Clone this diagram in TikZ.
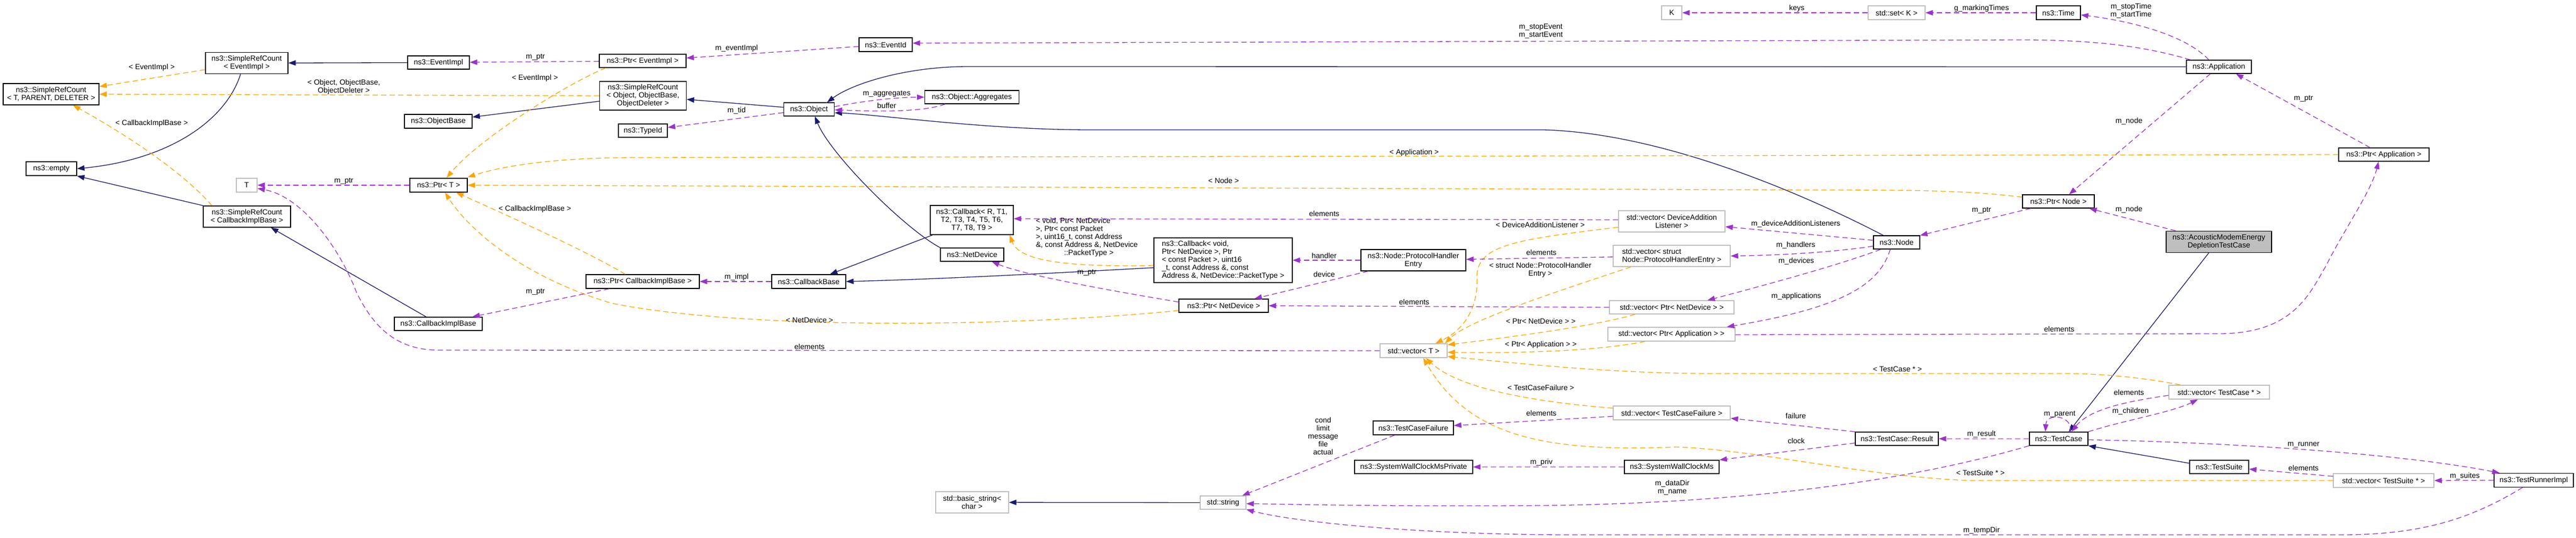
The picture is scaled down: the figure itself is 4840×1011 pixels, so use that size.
\documentclass[tikz,border=0pt]{standalone}
\usepackage{fontspec}
\setmainfont{Liberation Sans}
\usetikzlibrary{arrows.meta}
\definecolor{inhcol}{HTML}{191970}
\definecolor{usecol}{HTML}{9A32CD}
\definecolor{tplcol}{HTML}{FFA500}
\definecolor{extgray}{HTML}{BFBFBF}
\begin{document}
\begin{tikzpicture}[x=1pt, y=-1pt, font=\fontsize{14}{15}\selectfont,
  cls/.style 2 args={draw=black, fill=white, line width=1.4pt, minimum width=#1pt, minimum height=#2pt, inner sep=0pt, align=center},
  ext/.style 2 args={cls={#1}{#2}, draw=extgray},
  cur/.style 2 args={cls={#1}{#2}, fill=extgray},
  lbl/.style={inner sep=0pt, align=center},
  inh/.style={draw=inhcol, line width=1.3pt, -{Triangle[length=14pt,width=10pt]}},
  use/.style={draw=usecol, line width=1.3pt, dash pattern=on 10pt off 6pt, -{Triangle[length=14pt,width=10pt]}},
  tpl/.style={draw=tplcol, line width=1.3pt, dash pattern=on 10pt off 6pt, -{Triangle[length=14pt,width=10pt]}}]
  \path[use as bounding box, fill=white] (0,0) rectangle (4840,1011);

  % Classes, left to right
  \node[cls={180}{40}] (srcTPD) at (96,177) {ns3::SimpleRefCount\\< T, PARENT, DELETER >};
  \node[cls={155}{40}] (srcEI) at (463.5,118.5) {ns3::SimpleRefCount\\< EventImpl >};
  \node[cls={95}{26}] (empty) at (96.5,317) {ns3::empty};
  \node[cls={164}{40}] (srcCIB) at (464,407) {ns3::SimpleRefCount\\< CallbackImplBase >};
  \node[ext={39}{26}] (tparam) at (463.5,348) {T};
  \node[cls={116}{25}] (eventImpl) at (824,117.5) {ns3::EventImpl};
  \node[cls={127}{26}] (objectBase) at (823.5,228) {ns3::ObjectBase};
  \node[cls={108}{26}] (ptrT) at (824,348) {ns3::Ptr< T >};
  \node[cls={165}{25}] (callbackImplBase) at (823.5,608.5) {ns3::CallbackImplBase};
  \node[cls={163}{25}] (ptrEventImpl) at (1207.5,114.5) {ns3::Ptr< EventImpl >};
  \node[cls={163}{54}] (srcOOB) at (1208,180) {ns3::SimpleRefCount\\< Object, ObjectBase,\\ObjectDeleter >};
  \node[cls={92}{25}] (typeId) at (1208,245.5) {ns3::TypeId};
  \node[cls={213}{26}] (ptrCIB) at (1207.5,529) {ns3::Ptr< CallbackImplBase >};
  \node[cls={95}{25}] (object) at (1520,205.5) {ns3::Object};
  \node[cls={139}{26}] (callbackBase) at (1519.5,529) {ns3::CallbackBase};
  \node[cls={100}{26}] (eventId) at (1664,84) {ns3::EventId};
  \node[cls={177}{25}] (aggregates) at (1826,182.5) {ns3::Object::Aggregates};
  \node[cls={156}{55}] (callbackR) at (1826,413.5) {ns3::Callback< R, T1,\\T2, T3, T4, T5, T6,\\T7, T8, T9 >};
  \node[cls={119}{25}] (netDevice) at (1826.5,478.5) {ns3::NetDevice};
  \node[ext={137}{40}] (basicString) at (1826.5,944) {std::basic\_string<\\char >};
  \node[cls={260}{84}, align=left] (callbackVoid) at (2298,489) {ns3::Callback< void,\\ Ptr< NetDevice >, Ptr\\< const Packet >, uint16\\\_t, const Address \&, const\\ Address \&, NetDevice::PacketType >};
  \node[cls={168}{25}] (ptrND) at (2299,574.5) {ns3::Ptr< NetDevice >};
  \node[ext={86}{25}] (stdString) at (2298,944.5) {std::string};
  \node[cls={197}{40}] (phEntry) at (2655.5,489) {ns3::Node::ProtocolHandler\\Entry};
  \node[ext={126}{26}] (vecT) at (2656,659) {std::vector< T >};
  \node[cls={151}{26}] (tcFailure) at (2655.5,804) {ns3::TestCaseFailure};
  \node[cls={222}{25}] (swcPriv) at (2656,877.5) {ns3::SystemWallClockMsPrivate};
  \node[ext={38}{26}] (kparam) at (3141,24) {K};
  \node[ext={200}{40}] (vecDAL) at (3141,416) {std::vector< DeviceAddition\\Listener >};
  \node[ext={220}{40}, align=left] (vecPHE) at (3141,481) {std::vector< struct\\ Node::ProtocolHandlerEntry >};
  \node[ext={234}{25}] (vecPtrND) at (3141,577.5) {std::vector< Ptr< NetDevice > >};
  \node[ext={239}{26}] (vecPtrApp) at (3140.5,628) {std::vector< Ptr< Application > >};
  \node[ext={220}{26}] (vecTCF) at (3141,776) {std::vector< TestCaseFailure >};
  \node[cls={178}{25}] (swc) at (3141,877.5) {ns3::SystemWallClockMs};
  \node[ext={107}{26}] (setK) at (3563.5,24) {std::set< K >};
  \node[cls={87}{25}] (nsNode) at (3563.5,455.5) {ns3::Node};
  \node[cls={156}{25}] (tcResult) at (3564,824.5) {ns3::TestCase::Result};
  \node[cls={83}{26}] (nsTime) at (3867.5,24) {ns3::Time};
  \node[cls={135}{25}] (ptrNode) at (3867.5,378.5) {ns3::Ptr< Node >};
  \node[cls={110}{25}] (testCase) at (3868,824.5) {ns3::TestCase};
  \node[cls={122}{25}] (application) at (4169,125.5) {ns3::Application};
  \node[cur={198}{40}] (atc) at (4169,454.5) {ns3::AcousticModemEnergy\\DepletionTestCase};
  \node[ext={189}{26}] (vecTC) at (4169.5,737) {std::vector< TestCase * >};
  \node[cls={111}{25}] (testSuite) at (4169.5,877.5) {ns3::TestSuite};
  \node[cls={170}{25}] (ptrApp) at (4479,290.5) {ns3::Ptr< Application >};
  \node[ext={189}{26}] (vecTS) at (4478.5,903) {std::vector< TestSuite * >};
  \node[cls={149}{26}] (runner) at (4760.5,902.5) {ns3::TestRunnerImpl};

  % Inheritance
  \draw[inh] (eventImpl) -- (srcEI);
  \draw[inh] ([xshift=-11.5pt]srcEI.south) .. controls (425,225) and (320,300) .. (empty.east);
  \draw[inh] (srcCIB.north west) -- (empty.south east);
  \draw[inh] (srcOOB) -- (objectBase);
  \draw[inh] (object) -- (srcOOB);
  \draw[inh] (application.west) -- (1820,125) .. controls (1700,125) and (1600,158) .. ([xshift=34pt]object.north);
  \draw[inh] ([xshift=-25pt]nsNode.north) .. controls (3380,360) and (3120,250) .. (2900,244) -- (2050,244) .. controls (1850,244) and (1650,215) .. ([yshift=-6.5pt]object.east);
  \draw[inh] (netDevice.north west) .. controls (1700,430) and (1560,290) .. ([xshift=11pt]object.south);
  \draw[inh] ([xshift=-23pt]callbackImplBase.north) -- ([xshift=45pt]srcCIB.south);
  \draw[inh] ([xshift=-74pt]callbackR.south) -- ([xshift=40pt]callbackBase.north);
  \draw[inh] ([yshift=-14pt]callbackVoid.west) .. controls (1950,515) and (1750,525) .. (callbackBase.east);
  \draw[inh] (stdString) -- (basicString);
  \draw[inh] ([xshift=-19pt]atc.south) -- ([xshift=19pt]testCase.north);
  \draw[inh] ([yshift=7pt]testSuite.west) -- (testCase.south east);

  % Template instances
  \draw[tpl] (srcEI) -- (srcTPD);
  \draw[tpl] (srcOOB.west) -- (srcTPD.east);
  \draw[tpl] ([xshift=-66pt]srcCIB.north) .. controls (350,330) and (250,260) .. ([xshift=41pt]srcTPD.south);
  \draw[tpl] ([xshift=-69.5pt]ptrEventImpl.south) .. controls (1070,155) and (900,260) .. ([xshift=15pt]ptrT.north);
  \draw[tpl] (ptrApp.west) -- (1200,296) .. controls (1050,296) and (950,310) .. ([yshift=15pt]ptrT.east);
  \draw[tpl] ([yshift=8pt]ptrNode.west) .. controls (3700,358) and (3600,357) .. (3400,357) -- (ptrT.east);
  \draw[tpl] ([xshift=-33pt]ptrCIB.north) .. controls (1100,470) and (920,390) .. ([xshift=33pt]ptrT.south);
  \draw[tpl] ([yshift=-9pt]ptrND.west) .. controls (1900,615) and (1400,620) .. (1150,570) .. controls (980,520) and (880,430) .. ([xshift=12pt]ptrT.south);
  \draw[tpl] ([yshift=-10pt]callbackVoid.west) .. controls (2000,502) and (1915,490) .. ([xshift=71pt]callbackR.south);
  \draw[tpl] ([yshift=-11pt]vecDAL.west) .. controls (2850,450) and (2775,460) .. (2775,520) .. controls (2778,590) and (2740,625) .. ([xshift=41pt]vecT.north);
  \draw[tpl] ([xshift=-77pt]vecPHE.south) .. controls (2950,540) and (2760,600) .. ([xshift=59pt]vecT.north);
  \draw[tpl] ([xshift=-69pt]vecPtrND.south) .. controls (3000,612) and (2850,632) .. ([yshift=11pt]vecT.east);
  \draw[tpl] ([xshift=-50pt]vecPtrApp.south) .. controls (3000,660) and (2850,664) .. ([yshift=-3pt]vecT.east);
  \draw[tpl] ([xshift=-73pt]vecTC.north) .. controls (4030,710) and (3950,702) .. (3880,702) -- (3200,702) .. controls (3000,700) and (2850,682) .. ([yshift=-11pt]vecT.east);
  \draw[tpl] ([yshift=9pt]vecTCF.west) .. controls (2880,755) and (2740,730) .. ([xshift=23pt]vecT.south);
  \draw[tpl] (vecTS.west) -- (3700,903) .. controls (3500,895) and (3300,845) .. (3150,840) .. controls (2900,850) and (2760,820) .. ([xshift=18pt]vecT.south);

  % Members
  \draw[use] (ptrT.west) -- (tparam.east);
  \draw[use] (vecT.west) -- (820,658) .. controls (740,656) and (700,610) .. (670,550) .. controls (640,470) and (570,370) .. ([yshift=-6pt]tparam.east);
  \draw[use] (ptrEventImpl) -- (eventImpl);
  \draw[use] (eventId) -- (ptrEventImpl);
  \draw[use] ([xshift=-54pt]application.north) .. controls (4040,90) and (3950,75) .. (3800,75) -- ([yshift=3pt]eventId.east);
  \draw[use] (object) -- (typeId);
  \draw[use] ([yshift=5pt]object.east) .. controls (1620,190) and (1680,183) .. (aggregates.west);
  \draw[use] ([xshift=-50pt]aggregates.south) .. controls (1730,212) and (1640,209) .. ([yshift=-1pt]object.east);
  \draw[use] (callbackBase.west) -- (ptrCIB.east);
  \draw[use] ([xshift=-63pt]ptrCIB.south) -- ([xshift=64pt]callbackImplBase.north);
  \draw[use] ([yshift=3pt]vecDAL.west) -- ([yshift=2.5pt]callbackR.east);
  \draw[use] (phEntry.west) -- (callbackVoid.east);
  \draw[use] ([xshift=-85pt]phEntry.south) -- ([xshift=58pt]ptrND.north);
  \draw[use] (vecPHE) -- (phEntry);
  \draw[use] ([yshift=7pt]ptrND.west) .. controls (2050,540) and (1920,515) .. ([xshift=37pt]netDevice.south);
  \draw[use] (vecPtrND.west) -- (ptrND.east);
  \draw[use] ([yshift=-1pt]vecPtrApp.east) -- (4170,627) .. controls (4310,627) and (4340,550) .. (4370,500) .. controls (4405,430) and (4455,360) .. ([xshift=-10pt]ptrApp.south);
  \draw[use] (nsTime.west) -- (setK.east);
  \draw[use] (setK.west) -- (kparam.east);
  \draw[use] ([xshift=-19pt]application.north) .. controls (4110,70) and (4020,42) .. ([yshift=-4pt]nsTime.east);
  \draw[use] ([xshift=-16pt]application.south) -- ([xshift=20pt]ptrNode.north);
  \draw[use] ([xshift=-26pt]ptrApp.north) -- ([xshift=32pt]application.south);
  \draw[use] ([xshift=-81pt]atc.north) -- ([xshift=58pt]ptrNode.south);
  \draw[use] ([xshift=-52pt]ptrNode.south) -- ([xshift=44pt]nsNode.north);
  \draw[use] ([yshift=4pt]nsNode.west) -- ([yshift=-10pt]vecDAL.east);
  \draw[use] ([yshift=-7pt]nsNode.west) .. controls (3440,475) and (3330,480) .. (vecPHE.east);
  \draw[use] ([xshift=-30pt]nsNode.south) .. controls (3450,500) and (3300,540) .. ([xshift=67pt]vecPtrND.north);
  \draw[use] ([xshift=-12pt]nsNode.south) .. controls (3530,540) and (3450,580) .. ([xshift=104pt]vecPtrApp.north);
  \draw[use] (vecTCF) -- (tcFailure);
  \draw[use] ([xshift=-35pt]tcFailure.south) -- ([xshift=36pt]stdString.north);
  \draw[use] (swc.west) -- (swcPriv.east);
  \draw[use] (testCase.south west) .. controls (3600,900) and (3300,945) .. (2900,950) .. controls (2600,952) and (2450,948) .. ([yshift=-2pt]stdString.east);
  \draw[use] ([xshift=-21pt]runner.south) .. controls (4650,970) and (4560,1005) .. (4400,1005) -- (2950,1005) .. controls (2700,1005) and (2450,985) .. ([yshift=-13pt]stdString.east);
  \draw[use] (testCase.west) -- (tcResult.east);
  \draw[use] (tcResult.north west) -- ([yshift=-10pt]vecTCF.east);
  \draw[use] ([yshift=-8pt]tcResult.west) -- (swc.north east);
  \draw[use] ([xshift=22pt]testCase.north) .. controls (3895,780) and (3845,775) .. ([xshift=-25pt]testCase.north);
  \draw[use] ([yshift=-6pt]vecTC.west) .. controls (3990,755) and (3925,770) .. ([xshift=24pt]testCase.north);
  \draw[use] (testCase.north east) .. controls (3990,790) and (4080,775) .. ([xshift=-40pt]vecTC.south);
  \draw[use] ([yshift=-2pt]testCase.east) .. controls (4150,830) and (4500,850) .. ([xshift=-64pt]runner.north);
  \draw[use] ([yshift=8pt]vecTS.west) -- ([yshift=-4pt]testSuite.east);
  \draw[use] (runner.west) -- (vecTS.east);

  % Edge labels
  \foreach \x/\y/\txt [count=\i] in {
    285/127/{< EventImpl >}, 646/163/{< Object, ObjectBase,\\ObjectDeleter >},
    285/232/{< CallbackImplBase >}, 646/340/{m\_ptr}, 1006/107/{m\_ptr},
    1005/147/{< EventImpl >}, 1384/91/{m\_eventImpl}, 1384/208/{m\_tid},
    1666/176/{m\_aggregates}, 1666/198/{buffer}, 1005/393/{< CallbackImplBase >},
    2299/339/{< Node >}, 2657/287/{< Application >}, 2895/59/{m\_stopEvent\\m\_startEvent},
    3376/16/{keys}, 3723/16/{g\_markingTimes}, 4004/20/{m\_stopTime\\m\_startTime},
    4000/228/{m\_node}, 4328/185/{m\_ptr}, 3723/395/{m\_ptr}, 4000/394/{m\_node},
    3374/421/{m\_deviceAdditionListeners}, 3374/461/{m\_handlers}, 3375/491/{m\_devices},
    3375/557/{m\_applications}, 2488/401/{elements}, 2894/422/{< DeviceAdditionListener >},
    2488/480/{handler}, 2896/474/{elements}, 2894/507/{< struct Node::ProtocolHandler\\Entry >},
    2488/515/{device}, 2042/512/{m\_ptr}, 2657/567/{elements},
    2895/603/{< Ptr< NetDevice > >}, 2895/648/{< Ptr< Application > >}, 3869/618/{elements},
    1521/601/{< NetDevice >}, 1384/521/{m\_impl}, 1006/548/{m\_ptr}, 1521/651/{elements},
    3565/694/{< TestCase * >}, 2895/728/{< TestCaseFailure >}, 2896/776/{elements},
    2486/819/{cond\\limit\\message\\file\\actual}, 2896/869/{m\_priv}, 3142/916/{m\_dataDir\\m\_name},
    3723/997/{m\_tempDir}, 3721/888/{< TestSuite * >}, 3374/781/{failure}, 3375/828/{clock},
    3723/816/{m\_result}, 3870/778/{m\_parent}, 4000/737/{elements}, 4003/773/{m\_children},
    4328/836/{m\_runner}, 4328/879/{elements}, 4631/895/{m\_suites}}
    \node[lbl] (lab\i) at (\x,\y) {\txt};
  \node[lbl, align=left] (labCb) at (2042,446) {< void, Ptr< NetDevice\\>, Ptr< const Packet\\>, uint16\_t, const Address\\\&, const Address \&, NetDevice\\\hspace*{53pt}::PacketType >};
\end{tikzpicture}
\end{document}
